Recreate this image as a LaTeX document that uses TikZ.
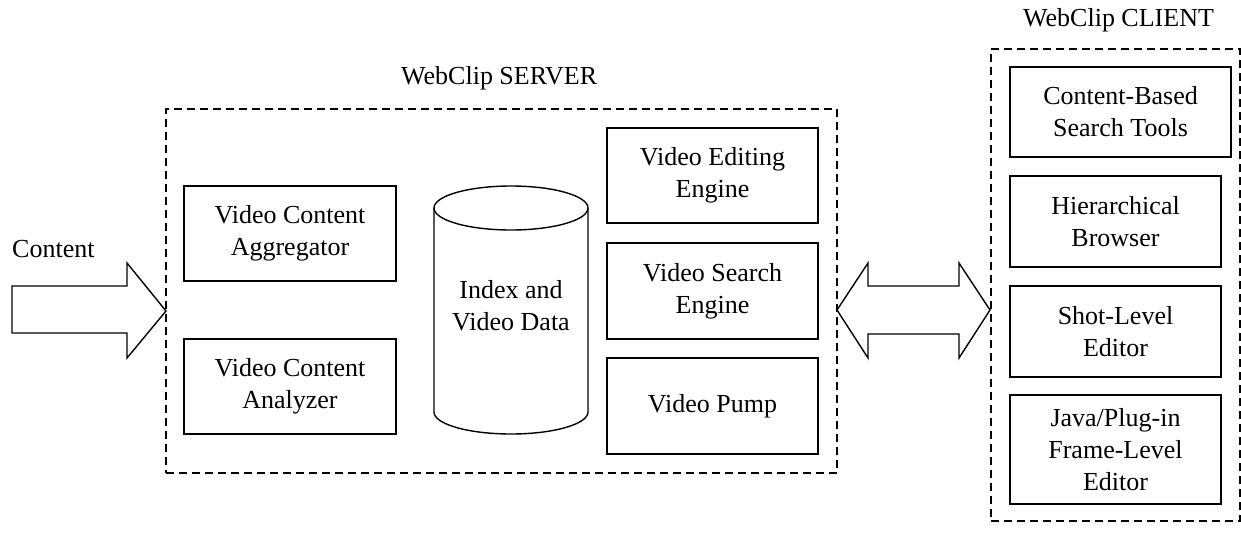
\documentclass[tikz,border=0pt]{standalone}
\usepackage{fontspec}
\setmainfont{Liberation Serif}
\begin{document}
\begin{tikzpicture}[x=1pt,y=-1pt,
  box/.style={draw,line width=1.4pt,inner sep=0pt,align=center,font=\fontsize{26}{32}\selectfont},
  group/.style={draw,line width=1.6pt,dash pattern=on 8pt off 5pt,inner sep=0pt},
  lbl/.style={inner sep=0pt,font=\fontsize{26}{32}\selectfont},
  blockarrow/.style={draw,line width=1.4pt,line join=miter,fill=white}]
\useasboundingbox (0,0) rectangle (1241,550);
% groups
\node[group,minimum width=671,minimum height=364] (server) at (501.5,291) {};
\node[group,minimum width=249,minimum height=472] (client) at (1115.5,285) {};
\node[lbl,anchor=base west] (serverlbl) at (401,84) {WebClip SERVER};
\node[lbl,anchor=base west] (clientlbl) at (1023,26) {WebClip CLIENT};
\node[lbl,anchor=base west] (contentlbl) at (12,257) {Content};
% server boxes
\node[box,minimum width=212,minimum height=95] (agg) at (290,233.5) {Video Content\\Aggregator};
\node[box,minimum width=212,minimum height=95] (ana) at (290,386.5) {Video Content\\Analyzer};
\node[box,minimum width=211,minimum height=95] (edit) at (712.5,175.5) {Video Editing\\Engine};
\node[box,minimum width=211,minimum height=96] (search) at (712.5,291) {Video Search\\Engine};
\node[box,minimum width=211,minimum height=96] (pump) at (712.5,406) {Video Pump};
% database cylinder
\draw[line width=1.4pt] (434,208) -- (434,412) arc[start angle=180,end angle=360,x radius=77pt,y radius=22pt] -- (588,208);
\draw[line width=1.4pt] (511,208) ellipse[x radius=77pt,y radius=22pt];
\node[lbl,align=center] (db) at (511,306) {Index and\\Video Data};
% client boxes
\node[box,minimum width=221,minimum height=90] (cbs) at (1120.5,112) {Content-Based\\Search Tools};
\node[box,minimum width=211,minimum height=91] (hb) at (1115.5,221.5) {Hierarchical\\Browser};
\node[box,minimum width=211,minimum height=91] (sle) at (1115.5,331.5) {Shot-Level\\Editor};
\node[box,minimum width=211,minimum height=109] (fle) at (1115.5,449.5) {Java/Plug-in\\Frame-Level\\Editor};
% content arrow
\draw[blockarrow] (12,286) -- (127,286) -- (127,263) -- (166,311) -- (127,358) -- (127,333) -- (12,333) -- cycle;
% double arrow
\draw[blockarrow] (837,310) -- (868,263) -- (868,286) -- (959,286) -- (959,263) -- (990,310) -- (959,358) -- (959,334) -- (868,334) -- (868,358) -- cycle;
\end{tikzpicture}
\end{document}
